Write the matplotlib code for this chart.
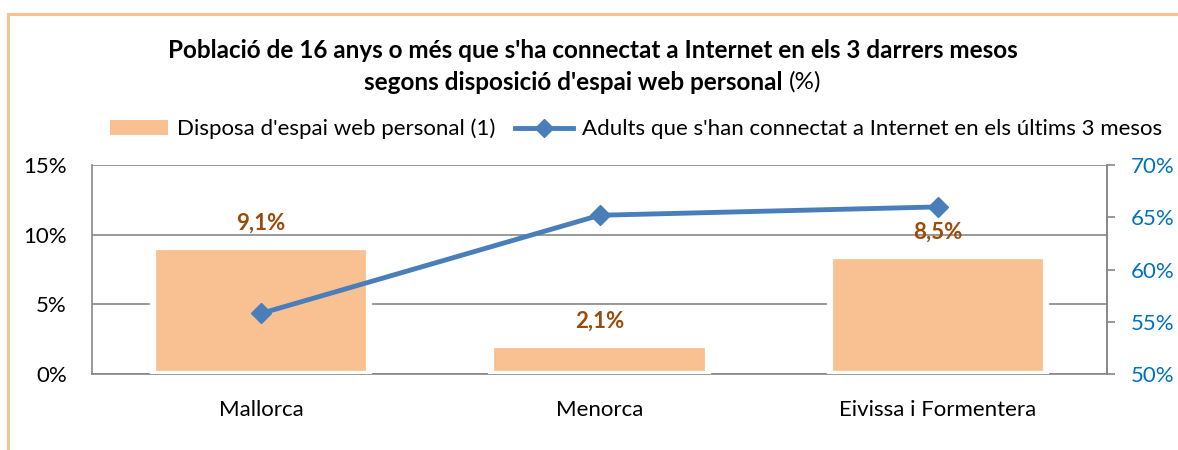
import matplotlib
matplotlib.use("Agg")
import matplotlib.pyplot as plt
import matplotlib.patheffects as pe
from matplotlib.lines import Line2D
from matplotlib.patches import Patch, Rectangle
from matplotlib.ticker import FuncFormatter

plt.rcParams["font.family"] = ["Lato", "DejaVu Sans"]

categories = ["Mallorca", "Menorca", "Eivissa i Formentera"]
espai_web = [9.1, 2.1, 8.5]          # % left axis (bars)
connectats = [55.8, 65.2, 66.0]      # % right axis (line)
bar_labels = ["9,1%", "2,1%", "8,5%"]

BAR_COLOR = "#F9C191"
LINE_COLOR = "#4A7EBB"
LABEL_COLOR = "#9C4A0A"
GRID_COLOR = "#878787"
FS = 16

fig = plt.figure(figsize=(11.78, 4.5), dpi=100)
ax = fig.add_axes([0.078, 0.169, 0.862, 0.464])

# outer chart border
fig.patches.append(Rectangle((8 / 1178, -0.1), 1.2, 1 - 14 / 450 + 0.1,
                             transform=fig.transFigure, fill=False,
                             edgecolor="#F9C191", linewidth=2.2))

x = range(len(categories))
bars = ax.bar(x, espai_web, width=0.64, color=BAR_COLOR, edgecolor="white",
              linewidth=4.5, zorder=3)
for b in bars:
    b.set_path_effects([pe.SimplePatchShadow(offset=(2, -2), alpha=0.12),
                        pe.Normal()])

for xi, v, lab in zip(x, espai_web, bar_labels):
    ax.annotate(lab, (xi, v), xytext=(0, 17), textcoords="offset points",
                ha="center", va="center", fontsize=FS, fontweight="bold",
                color=LABEL_COLOR, zorder=6)

ax.set_ylim(0, 15)
ax.set_yticks([0, 5, 10, 15])
ax.yaxis.set_major_formatter(FuncFormatter(lambda v, p: f"{v:.0f}%"))
ax.set_xlim(-0.5, 2.5)
ax.set_xticks(list(x))
ax.set_xticklabels(categories)
ax.tick_params(axis="both", length=0, labelsize=FS)
ax.tick_params(axis="x", pad=19)
ax.tick_params(axis="y", pad=18)
ax.grid(axis="y", color=GRID_COLOR, linewidth=1.2, zorder=0)
ax.set_axisbelow(True)
ax.spines["top"].set_visible(False)
for s in ["left", "bottom", "right"]:
    ax.spines[s].set_color(GRID_COLOR)
    ax.spines[s].set_linewidth(1.2)

ax2 = ax.twinx()
ax2.plot(list(x), connectats, color=LINE_COLOR, linewidth=3.5, marker="D",
         markersize=10, zorder=5)
ax2.set_ylim(50, 70)
ax2.set_yticks([50, 55, 60, 65, 70])
ax2.yaxis.set_major_formatter(FuncFormatter(lambda v, p: f"{v:.0f}%"))
ax2.tick_params(axis="y", length=6, width=1.2, color=GRID_COLOR,
                labelsize=FS, labelcolor="#0070C0", pad=11)
for s in ["top", "left", "bottom"]:
    ax2.spines[s].set_visible(False)
ax2.spines["right"].set_color(GRID_COLOR)
ax2.spines["right"].set_linewidth(1.2)
ax.set_zorder(1)
ax2.set_zorder(2)
ax.patch.set_visible(False)

# title
TFS = 17.5
fig.text(0.503, 1 - 50 / 450,
         "Població de 16 anys o més que s'ha connectat a Internet en els 3 darrers mesos",
         ha="center", va="center", fontsize=TFS, fontweight="bold")
t_bold = fig.text(0, 1 - 82 / 450, "segons disposició d'espai web personal",
                  ha="left", va="center", fontsize=TFS, fontweight="bold")
t_pct = fig.text(0, 1 - 82 / 450, "(%)", ha="left", va="center", fontsize=TFS)
fig.canvas.draw()
w1 = t_bold.get_window_extent().width / 1178
w2 = t_pct.get_window_extent().width / 1178
gap = 6 / 1178
x0 = 0.503 - (w1 + gap + w2) / 2
t_bold.set_x(x0)
t_pct.set_x(x0 + w1 + gap)

handles = [Patch(facecolor=BAR_COLOR, edgecolor="none"),
           Line2D([], [], color=LINE_COLOR, linewidth=3.5, marker="D",
                  markersize=9)]
fig.legend(handles, ["Disposa d'espai web personal (1)",
                     "Adults que s'han connectat a Internet en els últims 3 mesos"],
           loc="center", bbox_to_anchor=(0.54, 1 - 129 / 450), ncol=2,
           frameon=False, fontsize=FS, handlelength=2.6, handletextpad=0.4,
           columnspacing=0.9)

fig.savefig("out.png", dpi=100)
